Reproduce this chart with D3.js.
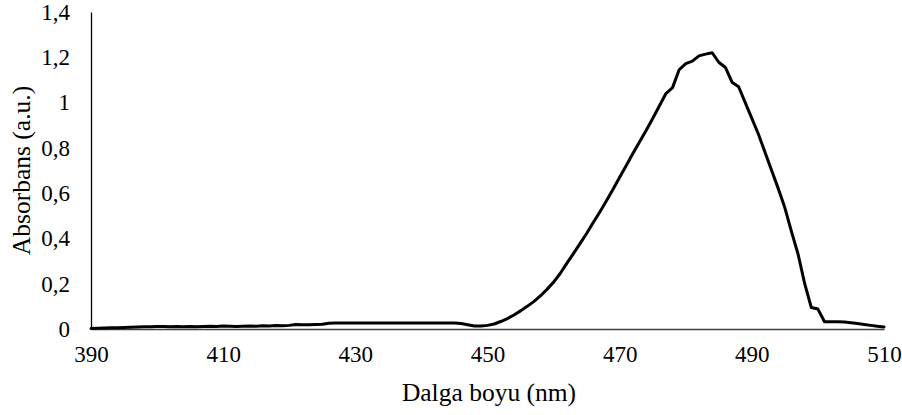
<!DOCTYPE html>
<html>
<head>
<meta charset="utf-8">
<script src="https://cdn.jsdelivr.net/npm/d3@7"></script>
<style>
    body { margin: 0; background: #fff; }
    svg { display: block; }
</style>
</head>
<body>
<svg id="drawing_region"></svg>
<script>
// wavelength (nm), 1 nm step
const wavelengths = d3.range(390, 511);

// absorbance, one value per wavelength
const absorbance = [
    0.002, 0.003, 0.004, 0.005, 0.006, 0.007, 0.008, 0.009, 0.010, 0.010,   // 390-399
    0.011, 0.011, 0.010, 0.011, 0.010, 0.011, 0.010, 0.011, 0.012, 0.011,   // 400-409
    0.013, 0.012, 0.011, 0.012, 0.013, 0.012, 0.014, 0.013, 0.015, 0.014,   // 410-419
    0.016, 0.020, 0.019, 0.019, 0.020, 0.021, 0.025, 0.027, 0.027, 0.027,   // 420-429
    0.027, 0.027, 0.027, 0.027, 0.027, 0.027, 0.027, 0.027, 0.027, 0.027,   // 430-439
    0.027, 0.027, 0.027, 0.027, 0.027, 0.026, 0.024, 0.019, 0.013, 0.013,   // 440-449
    0.016, 0.022, 0.033, 0.046, 0.062, 0.080, 0.100, 0.121, 0.146, 0.175,   // 450-459
    0.207, 0.245, 0.290, 0.333, 0.377, 0.422, 0.470, 0.517, 0.566, 0.617,   // 460-469
    0.670, 0.722, 0.775, 0.826, 0.877, 0.930, 0.985, 1.040, 1.066, 1.145,   // 470-479
    1.172, 1.183, 1.206, 1.214, 1.220, 1.178, 1.155, 1.090, 1.070, 1.000,   // 480-489
    0.930, 0.860, 0.780, 0.700, 0.620, 0.535, 0.430, 0.330, 0.200, 0.095,   // 490-499
    0.088, 0.032, 0.032, 0.032, 0.031, 0.028, 0.024, 0.020, 0.016, 0.012,   // 500-509
    0.009                                                                   // 510
];

const xticks = [390, 410, 430, 450, 470, 490, 510];
const yticks = [0, 0.2, 0.4, 0.6, 0.8, 1, 1.2, 1.4];

const data = wavelengths.map((w, i) => ({ x: w, y: absorbance[i] }));

const serif = "'Times New Roman', 'Liberation Serif', 'DejaVu Serif', serif";

const config = {
    width: 902,
    height: 415,
    margin: { top: 12, right: 18, bottom: 86, left: 91 }
};

const svg = d3.select('#drawing_region')
    .attr('width', config.width)
    .attr('height', config.height);

const inner_width = config.width - config.margin.left - config.margin.right;
const inner_height = config.height - config.margin.top - config.margin.bottom;

const chart = svg.append('g')
    .attr('transform', `translate(${config.margin.left}, ${config.margin.top})`);

const xscale = d3.scaleLinear().domain([390, 510]).range([0, inner_width]);
const yscale = d3.scaleLinear().domain([0, 1.4]).range([inner_height, 0]);

const comma = d => String(d).replace('.', ',');

const xaxis = d3.axisBottom(xscale)
    .tickValues(xticks)
    .tickSize(0)
    .tickPadding(17)
    .tickFormat(d => d);

const yaxis = d3.axisLeft(yscale)
    .tickValues(yticks)
    .tickSize(0)
    .tickPadding(21)
    .tickFormat(comma);

const xaxis_group = chart.append('g')
    .attr('transform', `translate(0, ${inner_height})`)
    .call(xaxis);

const yaxis_group = chart.append('g')
    .call(yaxis);

[xaxis_group, yaxis_group].forEach(g => {
    g.attr('font-family', null).attr('font-size', null);
    g.selectAll('text')
        .style('font-family', serif)
        .style('font-size', '23px')
        .attr('fill', '#000');
});

xaxis_group.select('.domain').attr('stroke', '#404040').attr('stroke-width', 1.3);
yaxis_group.select('.domain').attr('stroke', '#000').attr('stroke-width', 1.3);

const line = d3.line()
    .x(d => xscale(d.x))
    .y(d => yscale(d.y));

chart.append('path')
    .datum(data)
    .attr('fill', 'none')
    .attr('stroke', '#000')
    .attr('stroke-width', 3)
    .attr('stroke-linejoin', 'round')
    .attr('stroke-linecap', 'round')
    .attr('d', line);

// axis titles
svg.append('text')
    .attr('x', 489)
    .attr('y', 401)
    .attr('text-anchor', 'middle')
    .style('font-family', serif)
    .style('font-size', '25.5px')
    .text('Dalga boyu (nm)');

svg.append('text')
    .attr('transform', `translate(30, ${config.margin.top + inner_height / 2}) rotate(-90)`)
    .attr('text-anchor', 'middle')
    .style('font-family', serif)
    .style('font-size', '25.5px')
    .text('Absorbans (a.u.)');
</script>
</body>
</html>
